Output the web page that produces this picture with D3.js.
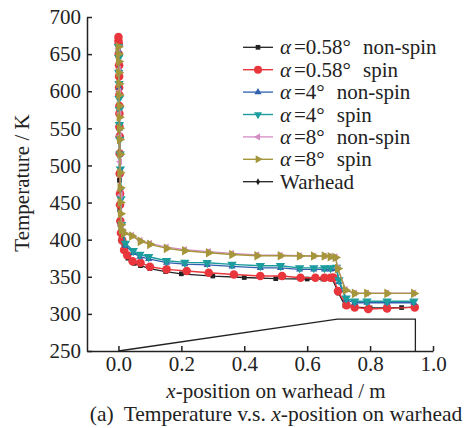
<!DOCTYPE html>
<html lang="en">
<head>
<meta charset="UTF-8"/>
<title>Temperature vs x-position on warhead</title>
<script src="https://d3js.org/d3.v7.min.js"></script>
<style>
  body { margin: 0; background: #fff; }
  text { font-family: "Liberation Serif", "Times New Roman", serif; fill: #222; }
</style>
</head>
<body>
<script>
// ---------- data ----------
var xTicks = [0.0, 0.2, 0.4, 0.6, 0.8, 1.0];
var yTicks = [250, 300, 350, 400, 450, 500, 550, 600, 650, 700];

// alpha = 0.58 non-spin
var xA058n = [0, 0.001, 0.002, 0.003, 0.004, 0.005, 0.008, 0.015, 0.03, 0.05, 0.07, 0.1, 0.15, 0.2, 0.3, 0.4, 0.5, 0.6, 0.65, 0.68, 0.7, 0.72, 0.75, 0.8, 0.85, 0.9, 0.942];
var tA058n = [655, 600, 540, 480, 440, 420, 400, 386, 375, 368, 365, 361, 357, 354, 351, 349, 347.5, 347, 347, 347, 328, 311, 309, 308, 308, 308.5, 309];
// alpha = 0.58 spin
var xA058s = [0, 0, 0.001, 0.001, 0.002, 0.002, 0.002, 0.003, 0.003, 0.003, 0.003, 0.004, 0.004, 0.004, 0.005, 0.005, 0.006, 0.008, 0.012, 0.018, 0.028, 0.045, 0.07, 0.1, 0.153, 0.217, 0.287, 0.367, 0.451, 0.52, 0.579, 0.626, 0.655, 0.674, 0.683, 0.698, 0.725, 0.751, 0.794, 0.854, 0.942];
var tA058s = [673, 668, 664, 650, 635, 620, 605, 595, 580, 570, 552, 539, 516, 489, 462, 447, 425, 409, 399, 386, 379, 371, 369, 363.5, 360, 357.7, 355.4, 353, 351, 351, 348.6, 348.6, 348.6, 348.6, 349, 330.7, 311.8, 308.8, 306.5, 307.4, 308.8];
// alpha = 4 non-spin
var xA4n = [0, 0.001, 0.002, 0.003, 0.004, 0.005, 0.007, 0.01, 0.022, 0.047, 0.068, 0.096, 0.153, 0.211, 0.282, 0.361, 0.451, 0.515, 0.576, 0.621, 0.655, 0.674, 0.693, 0.701, 0.724, 0.751, 0.79, 0.854, 0.939];
var tA4n = [655, 630, 605, 580, 550, 515, 470, 415, 392, 382, 377, 374, 369, 367, 366, 364, 362, 362, 360, 360, 360, 360, 360.5, 343, 319, 315, 315, 315, 315];
// alpha = 4 spin
var xA4s = [0, 0.001, 0.001, 0.002, 0.002, 0.003, 0.003, 0.004, 0.005, 0.006, 0.008, 0.01, 0.022, 0.047, 0.068, 0.096, 0.153, 0.211, 0.282, 0.361, 0.451, 0.515, 0.576, 0.621, 0.655, 0.674, 0.693, 0.701, 0.724, 0.751, 0.79, 0.854, 0.939];
var tA4s = [660, 645, 625, 610, 590, 575, 555, 535, 515, 495, 455, 420, 395, 385, 380, 377, 371.6, 369.4, 368.9, 366.7, 364.8, 364.8, 362, 362, 362, 362, 362.6, 345.6, 321, 317, 317, 317, 317];
// alpha = 8 non-spin
var xA8n = [0, 0.001, 0.002, 0.003, 0.004, 0.005, 0.007, 0.01, 0.017, 0.043, 0.07, 0.1, 0.153, 0.211, 0.287, 0.361, 0.441, 0.515, 0.576, 0.621, 0.655, 0.674, 0.69, 0.697, 0.722, 0.751, 0.79, 0.854, 0.939];
var tA8n = [658, 630, 600, 570, 540, 505, 460, 420, 410, 406, 399, 395, 390, 386.5, 384, 381.5, 379.5, 379, 378.5, 378, 378, 377.5, 377, 362, 333, 328, 328, 328, 328];
// alpha = 8 spin
var xA8s = [0, 0, 0.001, 0.001, 0.002, 0.002, 0.003, 0.003, 0.004, 0.004, 0.005, 0.005, 0.006, 0.006, 0.007, 0.008, 0.01, 0.017, 0.043, 0.07, 0.1, 0.153, 0.211, 0.287, 0.361, 0.441, 0.515, 0.576, 0.621, 0.655, 0.674, 0.69, 0.697, 0.722, 0.751, 0.79, 0.854, 0.939];
var tA8s = [660, 650, 640, 625, 610, 595, 580, 565, 550, 535, 515, 490, 470, 450, 435, 420, 413, 408.5, 405, 397.7, 393.7, 388.3, 385, 382.4, 380, 378.3, 378.3, 378, 378, 378, 377, 376, 361, 332, 327.6, 327.6, 327.6, 327.6];
// warhead outline
var xWarhead = [0, 0.696, 0.944, 0.944];
var tWarhead = [250, 293, 293, 250];

var seriesNames = ["=0.58°", "=0.58°", "=4°", "=4°", "=8°", "=8°", "Warhead"];
var seriesModes = ["non-spin", "spin", "non-spin", "spin", "non-spin", "spin", ""];

// ---------- layout ----------
var w = 474, h = 428;
var fs = 21;
var svg = d3.select("body").append("svg")
    .attr("width", w).attr("height", h);

var xScale = d3.scaleLinear().domain([-0.1, 1.0]).range([87, 433]);
var yScale = d3.scaleLinear().domain([250, 700]).range([351, 17]);

var series = [
  {xs: xA058n, ys: tA058n, color: "#222222", sym: d3.symbolSquare, size: 22, rot: 0, lw: 1.3},
  {xs: xA058s, ys: tA058s, color: "#e8363c", sym: d3.symbolCircle, size: 58, rot: 0, lw: 1.4},
  {xs: xA4n, ys: tA4n, color: "#2f5fae", sym: d3.symbolTriangle, size: 22, rot: 0, lw: 1.3},
  {xs: xA4s, ys: tA4s, color: "#1c9c9c", sym: d3.symbolTriangle, size: 38, rot: 180, lw: 1.4},
  {xs: xA8n, ys: tA8n, color: "#d48cc4", sym: d3.symbolTriangle, size: 22, rot: -90, lw: 1.3},
  {xs: xA8s, ys: tA8s, color: "#a5963c", sym: d3.symbolTriangle, size: 40, rot: 90, lw: 1.4}
];

var line = d3.line()
    .x(function(d) { return xScale(d[0]); })
    .y(function(d) { return yScale(d[1]); });

// warhead outline
svg.append("path")
    .datum(d3.zip(xWarhead, tWarhead))
    .attr("d", line)
    .attr("fill", "none")
    .attr("stroke", "#222")
    .attr("stroke-width", 1.3);

// curves
series.forEach(function(s) {
  var pts = d3.zip(s.xs, s.ys);
  var g = svg.append("g");
  g.append("path")
      .datum(pts)
      .attr("d", line)
      .attr("fill", "none")
      .attr("stroke", s.color)
      .attr("stroke-width", s.lw);
  g.selectAll("path.m")
      .data(pts)
      .enter()
      .append("path")
      .attr("class", "m")
      .attr("d", d3.symbol().type(s.sym).size(s.size))
      .attr("transform", function(d) {
        return "translate(" + xScale(d[0]) + "," + yScale(d[1]) + ") rotate(" + s.rot + ")";
      })
      .attr("fill", s.color);
});

// ---------- axes ----------
var xAxis = d3.axisBottom(xScale)
    .tickValues(xTicks)
    .tickFormat(d3.format(".1f"))
    .tickSizeInner(-5)
    .tickSizeOuter(0)
    .tickPadding(5);
var yAxis = d3.axisLeft(yScale)
    .tickValues(yTicks)
    .tickSizeInner(-5)
    .tickSizeOuter(0)
    .tickPadding(6);

var gx = svg.append("g")
    .attr("transform", "translate(0,351)")
    .call(xAxis);
var gy = svg.append("g")
    .attr("transform", "translate(87,0)")
    .call(yAxis);

[gx, gy].forEach(function(g) {
  g.select(".domain").attr("stroke", "#222").attr("stroke-width", 1.5);
  g.selectAll(".tick line").attr("stroke", "#222").attr("stroke-width", 1.5);
  g.selectAll(".tick text")
      .attr("font-family", "Liberation Serif, serif")
      .attr("font-size", fs)
      .attr("fill", "#222");
});

// axis titles
svg.append("text")
    .attr("transform", "translate(29,183) rotate(-90)")
    .attr("text-anchor", "middle")
    .attr("font-size", fs)
    .text("Temperature / K");

var xt = svg.append("text")
    .attr("x", 276).attr("y", 398)
    .attr("text-anchor", "middle")
    .attr("font-size", fs);
xt.append("tspan").attr("font-style", "italic").text("x");
xt.append("tspan").text("-position on warhead / m");

var cap = svg.append("text")
    .attr("x", 276).attr("y", 421)
    .attr("text-anchor", "middle")
    .attr("font-size", 21.5);
cap.append("tspan").text("(a)");
cap.append("tspan").attr("dx", 10).text("Temperature v.s. ");
cap.append("tspan").attr("font-style", "italic").text("x");
cap.append("tspan").text("-position on warhead");

// ---------- legend ----------
var legendSeries = series.concat([{color: "#222222", sym: d3.symbolDiamond, size: 14, rot: 0, lw: 1.3}]);
var legend = svg.append("g");
legendSeries.forEach(function(s, i) {
  var y = 47.3 + i * 22.4;
  var row = legend.append("g").attr("transform", "translate(0," + y + ")");
  row.append("line")
      .attr("x1", 243).attr("x2", 273)
      .attr("stroke", s.color)
      .attr("stroke-width", s.lw);
  row.append("path")
      .attr("d", d3.symbol().type(s.sym).size(i === 1 ? 50 : Math.min(s.size, 28)))
      .attr("transform", "translate(258,0) rotate(" + s.rot + ")")
      .attr("fill", s.color);
  var t = row.append("text")
      .attr("x", 280).attr("y", 7)
      .attr("font-size", fs);
  if (i < 6) {
    t.append("tspan").attr("font-style", "italic").text("α");
    t.append("tspan").attr("dx", 3).text(seriesNames[i]);
    t.append("tspan").attr("dx", 12).text(seriesModes[i]);
  } else {
    t.text(seriesNames[i]);
  }
});
</script>
</body>
</html>
